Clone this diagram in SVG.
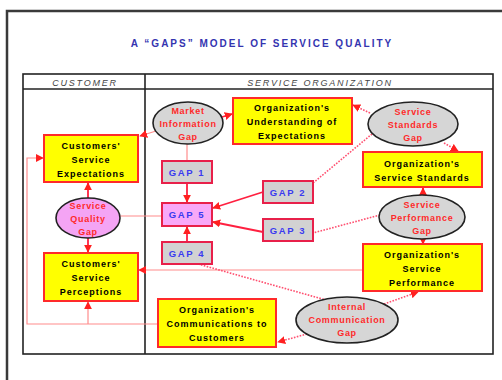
<svg xmlns="http://www.w3.org/2000/svg" width="502" height="380" viewBox="0 0 502 380">
  <style>
    .frame { fill: none; stroke: #3a3a3a; stroke-width: 2.5; }
    .tbl { fill: none; stroke: #222; stroke-width: 1.6; }
    .title { font-family: "Liberation Sans", Arial, sans-serif; font-size: 10px; font-weight: bold; fill: #3434b0; letter-spacing: 2px; }
    .hdr { font-family: "Liberation Sans", Arial, sans-serif; font-size: 9px; font-style: italic; fill: #444; letter-spacing: 1.8px; }
    .box { fill: #ffff00; stroke: #ff2a2a; stroke-width: 2; }
    .btxt { font-family: "Liberation Sans", Arial, sans-serif; font-size: 9px; font-weight: bold; fill: #000; letter-spacing: 1px; text-anchor: middle; }
    .gap { fill: #d6d6d6; stroke: #222; stroke-width: 1.6; }
    .gapq { fill: #f4a4f4; stroke: #222; stroke-width: 1.6; }
    .gtxt { font-family: "Liberation Sans", Arial, sans-serif; font-size: 9px; font-weight: bold; fill: #ff2a2a; letter-spacing: 0.7px; text-anchor: middle; }
    .gbox { fill: #d2d2d2; stroke: #e8204a; stroke-width: 2; }
    .gbox5 { fill: #f8a8f8; stroke: #e8204a; stroke-width: 2; }
    .gbtxt { font-family: "Liberation Sans", Arial, sans-serif; font-size: 9.5px; font-weight: bold; fill: #3a3af0; letter-spacing: 1.6px; text-anchor: middle; }
    .solid { fill: none; stroke: #ff2040; stroke-width: 1.8; }
    .thin { fill: none; stroke: #ff8c8c; stroke-width: 1.2; }
    .dot { fill: none; stroke: #ff5070; stroke-width: 1.6; stroke-dasharray: 1.6 1.4; }
  </style>
  <defs>
    <marker id="arr" viewBox="0 0 10 10" refX="9" refY="5" markerWidth="8" markerHeight="8" markerUnits="userSpaceOnUse" orient="auto">
      <path d="M0,0 L10,5 L0,10 z" fill="#ff2020"/>
    </marker>
  </defs>

  <rect width="502" height="380" fill="#ffffff"/>

  <!-- outer page frame -->
  <path class="frame" d="M7,380 L7,11 L502,11"/>

  <!-- title -->
  <text class="title" x="262" y="47" text-anchor="middle">A “GAPS” MODEL OF SERVICE QUALITY</text>

  <!-- table -->
  <g id="table">
    <rect class="tbl" x="23" y="74" width="470" height="280"/>
    <line class="tbl" x1="23" y1="89" x2="493" y2="89"/>
    <line class="tbl" x1="145" y1="74" x2="145" y2="354"/>
    <text class="hdr" x="85" y="86" text-anchor="middle">CUSTOMER</text>
    <text class="hdr" x="320" y="86" text-anchor="middle">SERVICE ORGANIZATION</text>
  </g>

  <!-- connectors -->
  <g id="connectors">
    <!-- customer side -->
    <path class="thin" d="M158,324 L27,324 L27,158 L43,158" marker-end="url(#arr)"/>
    <path class="thin" d="M88,324 L88,302" marker-end="url(#arr)"/>
    <path class="solid" d="M88,198 L88,183" marker-end="url(#arr)"/>
    <path class="solid" d="M88,238 L88,252" marker-end="url(#arr)"/>
    <path class="thin" d="M119,216 L162,216"/>
    <path class="thin" d="M363,270 L139,270" marker-end="url(#arr)"/>
    <path class="thin" d="M156,131 L140,136" marker-end="url(#arr)"/>

    <!-- market information gap -->
    <path class="solid" d="M222,117 L232,114" marker-end="url(#arr)"/>
    <path class="thin" d="M187,144 L187,161"/>

    <!-- gap boxes into gap 5 -->
    <path class="solid" d="M187,183 L187,202" marker-end="url(#arr)"/>
    <path class="solid" d="M187,242 L187,227" marker-end="url(#arr)"/>
    <path class="solid" d="M263,192 L213,208" marker-end="url(#arr)"/>
    <path class="solid" d="M263,232 L213,222" marker-end="url(#arr)"/>

    <!-- service standards gap -->
    <path class="dot" d="M370,113 L353,105" marker-end="url(#arr)"/>
    <path class="dot" d="M444,143 L458,151" marker-end="url(#arr)"/>
    <path class="dot" d="M372,134 L313,183"/>

    <!-- service performance gap -->
    <path class="solid" d="M423,196 L423,188" marker-end="url(#arr)"/>
    <path class="solid" d="M423,238 L423,244" marker-end="url(#arr)"/>
    <path class="dot" d="M380,215 L313,233"/>

    <!-- internal communication gap -->
    <path class="dot" d="M384,304 L418,292" marker-end="url(#arr)"/>
    <path class="dot" d="M307,334 L278,342" marker-end="url(#arr)"/>
    <path class="dot" d="M198,264 L326,300"/>
  </g>

  <!-- nodes -->
  <g id="market-information-gap">
    <ellipse class="gap" cx="188" cy="123" rx="35" ry="21"/>
    <text class="gtxt" x="188" y="114">Market</text>
    <text class="gtxt" x="188" y="127">Information</text>
    <text class="gtxt" x="188" y="140">Gap</text>
  </g>

  <g id="org-understanding">
    <rect class="box" x="233" y="98" width="119" height="46"/>
    <text class="btxt" x="292" y="111">Organization's</text>
    <text class="btxt" x="292" y="125">Understanding of</text>
    <text class="btxt" x="292" y="139">Expectations</text>
  </g>

  <g id="service-standards-gap">
    <ellipse class="gap" cx="413" cy="124" rx="45" ry="22"/>
    <text class="gtxt" x="413" y="115">Service</text>
    <text class="gtxt" x="413" y="128">Standards</text>
    <text class="gtxt" x="413" y="141">Gap</text>
  </g>

  <g id="org-service-standards">
    <rect class="box" x="363" y="152" width="119" height="35"/>
    <text class="btxt" x="422" y="167">Organization's</text>
    <text class="btxt" x="422" y="181">Service Standards</text>
  </g>

  <g id="service-performance-gap">
    <ellipse class="gap" cx="422" cy="217" rx="43" ry="22"/>
    <text class="gtxt" x="422" y="208">Service</text>
    <text class="gtxt" x="422" y="221">Performance</text>
    <text class="gtxt" x="422" y="234">Gap</text>
  </g>

  <g id="org-service-performance">
    <rect class="box" x="363" y="244" width="119" height="47"/>
    <text class="btxt" x="422" y="258">Organization's</text>
    <text class="btxt" x="422" y="272">Service</text>
    <text class="btxt" x="422" y="286">Performance</text>
  </g>

  <g id="internal-communication-gap">
    <ellipse class="gap" cx="347" cy="320" rx="51" ry="23"/>
    <text class="gtxt" x="347" y="310">Internal</text>
    <text class="gtxt" x="347" y="323">Communication</text>
    <text class="gtxt" x="347" y="336">Gap</text>
  </g>

  <g id="org-communications">
    <rect class="box" x="158" y="299" width="118" height="48"/>
    <text class="btxt" x="217" y="313">Organization's</text>
    <text class="btxt" x="217" y="327">Communications to</text>
    <text class="btxt" x="217" y="341">Customers</text>
  </g>

  <g id="customer-expectations">
    <rect class="box" x="44" y="135" width="94" height="47"/>
    <text class="btxt" x="91" y="149">Customers'</text>
    <text class="btxt" x="91" y="163">Service</text>
    <text class="btxt" x="91" y="177">Expectations</text>
  </g>

  <g id="service-quality-gap">
    <ellipse class="gapq" cx="88" cy="218" rx="32" ry="20"/>
    <text class="gtxt" x="88" y="209">Service</text>
    <text class="gtxt" x="88" y="222">Quality</text>
    <text class="gtxt" x="88" y="235">Gap</text>
  </g>

  <g id="customer-perceptions">
    <rect class="box" x="44" y="253" width="94" height="48"/>
    <text class="btxt" x="91" y="267">Customers'</text>
    <text class="btxt" x="91" y="281">Service</text>
    <text class="btxt" x="91" y="295">Perceptions</text>
  </g>

  <g id="gap-1">
    <rect class="gbox" x="162" y="161" width="50" height="22"/>
    <text class="gbtxt" x="187" y="176">GAP 1</text>
  </g>
  <g id="gap-5">
    <rect class="gbox5" x="162" y="203" width="50" height="23"/>
    <text class="gbtxt" x="187" y="218">GAP 5</text>
  </g>
  <g id="gap-4">
    <rect class="gbox" x="162" y="242" width="50" height="22"/>
    <text class="gbtxt" x="187" y="257">GAP 4</text>
  </g>
  <g id="gap-2">
    <rect class="gbox" x="263" y="181" width="50" height="22"/>
    <text class="gbtxt" x="288" y="196">GAP 2</text>
  </g>
  <g id="gap-3">
    <rect class="gbox" x="263" y="219" width="50" height="22"/>
    <text class="gbtxt" x="288" y="234">GAP 3</text>
  </g>
</svg>
